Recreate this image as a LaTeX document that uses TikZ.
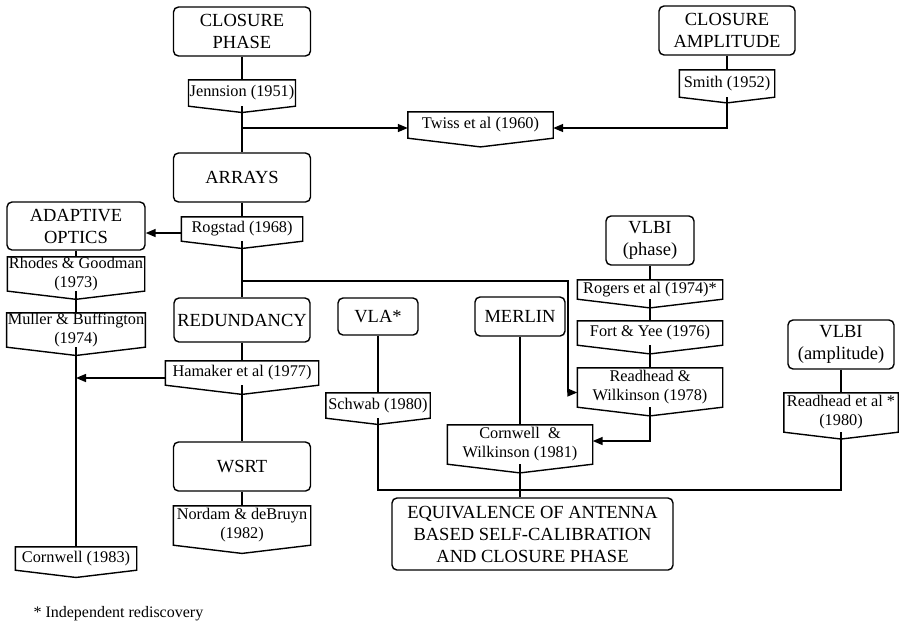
\documentclass[tikz,border=0pt]{standalone}
\usepackage{fontspec}
\setmainfont{Liberation Serif}
\usetikzlibrary{arrows.meta}

\begin{document}
\begin{tikzpicture}
[x=1pt,y=-1pt,
  lineDecorate/.style={-,line width=1.5pt},%
  arrowDecorate/.style={-{Triangle[length=10pt,width=8pt]},line width=1.5pt},%
  topicDecorate/.style={shape=rectangle,rounded corners=5pt,draw,line width=1.4pt,
    align=center,inner sep=0pt,font=\fontsize{18.5}{22}\selectfont},%
  refDecorate/.style={shape=rectangle,align=center,inner xsep=1pt,inner ysep=0pt,
    font=\fontsize{16.3}{19}\selectfont},%
  refLine/.style={line width=1.4pt,line join=miter}]
\useasboundingbox (0,0) rectangle (899,625);
%% topic boxes
\foreach \nodename/\x/\y/\w/\h/\txt in {phase/242/31.5/137/49/{CLOSURE\\PHASE},
  ampl/727/30.5/136/49/{CLOSURE\\AMPLITUDE}, arrays/242/177.5/137/49/{ARRAYS},
  adaptive/76/226/138/48/{ADAPTIVE\\OPTICS}, redund/242/320/136/44/{REDUNDANCY},
  vla/378/316.5/80/37/{VLA*}, merlin/520/316.5/90/39/{MERLIN},
  vlbip/650/240.5/88/49/{VLBI\\(phase)}, vlbia/841/344.5/106/49/{VLBI\\(amplitude)},
  wsrt/242/466.5/137/49/{WSRT},
  equiv/532.5/534/281/72/{EQUIVALENCE OF ANTENNA\\BASED SELF-CALIBRATION\\AND CLOSURE PHASE}}
{
  \node (\nodename) at (\x,\y) [topicDecorate,minimum width=\w pt,minimum height=\h pt] {\txt};
}
%% references, with a pointed foot
\foreach \nodename/\x/\y/\w/\h/\txt in {jenn/242/93/105/26/{Jennsion (1951)},
  smith/727/83.5/95/27/{Smith (1952)}, twiss/480.5/125/145/26/{Twiss et al (1960)},
  rogstad/242/229/121/24/{Rogstad (1968)},
  rhodes/76/274/137/31/{Rhodes \& Goodman\\(1973)},
  muller/76/330/138/31/{Muller \& Buffington\\(1974)},
  hamaker/242/373/153/24/{Hamaker et al (1977)}, schwab/378/405.5/104/25/{Schwab (1980)},
  nordam/242/525.5/137/39/{Nordam \& deBruyn\\(1982)},
  cornwell/76/558.5/121/23/{Cornwell (1983)},
  rogers/650/289.5/145/19/{Rogers et al (1974)*}, fort/650/333/145/24/{Fort \& Yee (1976)},
  rw78/650/387.5/145/39/{Readhead \&\\Wilkinson (1978)},
  cw81/520/444.5/145/39/{Cornwell\ \ \&\\Wilkinson (1981)},
  rh80/841/412.5/114/39/{Readhead et al *\\(1980)}}
{
  \node (\nodename) at (\x,\y) [refDecorate,minimum width=\w pt,minimum height=\h pt] {\txt};
  \draw[refLine] (\nodename.north west) -- (\nodename.north east) -- (\nodename.south east)
    -- ([yshift={-0.06*\w pt}]\nodename.south) -- (\nodename.south west) -- cycle;
}
\node (note) at (30,614) [anchor=west,font=\fontsize{16}{18}\selectfont] {* Independent rediscovery};
%% straight links
\path
\foreach \startnode/\endnode in {phase/jenn, jenn/arrays, arrays/rogstad, rogstad/redund,
  redund/hamaker, hamaker/wsrt, wsrt/nordam, adaptive/rhodes, rhodes/muller,
  muller/cornwell, ampl/smith, vla/schwab, merlin/cw81, vlbip/rogers, rogers/fort,
  fort/rw78, vlbia/rh80}
{
  (\startnode) edge[lineDecorate] (\endnode)
};
%% arrows and joins
\coordinate (fork1) at (242,128);
\coordinate (fork2) at (242,281);
\coordinate (bend) at (568,281);
\coordinate (merge) at (520,490);
\draw[arrowDecorate] (fork1) -- (fork1 -| twiss.west);
\draw[arrowDecorate] (smith.south) |- (fork1 -| twiss.east);
\draw[arrowDecorate] ([yshift=-4pt]rogstad.west) -- ([yshift=-4pt]rogstad.west -| adaptive.east);
\draw[arrowDecorate] (fork2) -- (bend) |- ([yshift=-5pt]rw78.west);
\draw[arrowDecorate] ([yshift=-5pt]hamaker.west) -- ([yshift=-5pt]hamaker.west -| muller.south);
\draw[arrowDecorate] (rw78.south) |- ([yshift=3.5pt]cw81.east);
\draw[lineDecorate] (schwab.south) |- (merge) -| (rh80.south);
\draw[lineDecorate] (cw81.south) -- (cw81.south |- equiv.north);
\end{tikzpicture}
\end{document}
